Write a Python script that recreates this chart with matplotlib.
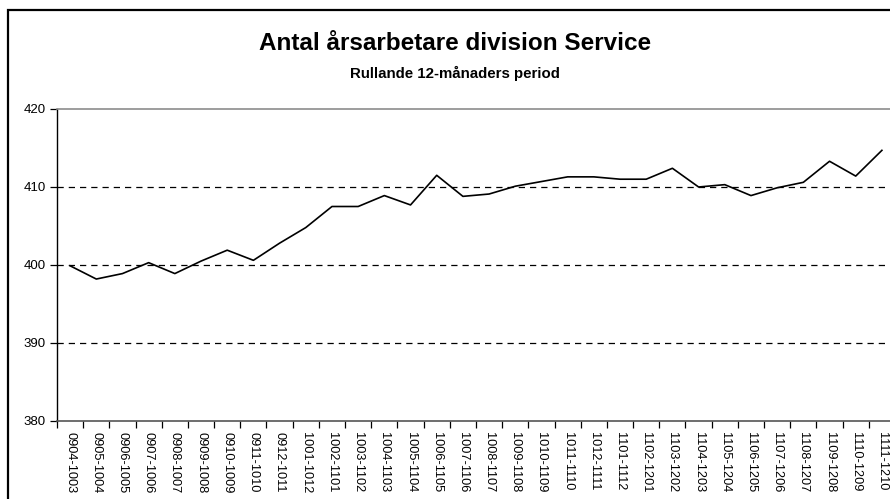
import matplotlib
matplotlib.use("Agg")
import matplotlib.pyplot as plt
from matplotlib.patches import Rectangle
from matplotlib.ticker import FixedLocator, NullFormatter

plt.rcParams['font.family'] = ['Liberation Sans Narrow', 'Liberation Sans', 'DejaVu Sans']

periods = ["0904-1003", "0905-1004", "0906-1005", "0907-1006", "0908-1007", "0909-1008",
           "0910-1009", "0911-1010", "0912-1011", "1001-1012", "1002-1101", "1003-1102",
           "1004-1103", "1005-1104", "1006-1105", "1007-1106", "1008-1107", "1009-1108",
           "1010-1109", "1011-1110", "1012-1111", "1101-1112", "1102-1201", "1103-1202",
           "1104-1203", "1105-1204", "1106-1205", "1107-1206", "1108-1207", "1109-1208",
           "1110-1209", "1111-1210"]
arsarbetare = [399.9, 398.2, 398.9, 400.3, 398.9, 400.5, 401.9, 400.6, 402.8, 404.8,
               407.5, 407.5, 408.9, 407.7, 411.5, 408.8, 409.1, 410.1, 410.7, 411.3,
               411.3, 411.0, 411.0, 412.4, 410.0, 410.3, 408.9, 409.9, 410.6, 413.3,
               411.4, 414.7]
y_ticks = [380, 390, 400, 410, 420]

W, H = 890, 499
fig = plt.figure(figsize=(W / 100, H / 100), dpi=100)
fig.patch.set_facecolor("white")

# outer chart frame
fig.patches.append(Rectangle((8 / W, -0.2), 1.2, 1 - 10 / H + 0.2,
                             transform=fig.transFigure, fill=False,
                             edgecolor="black", linewidth=1.6, clip_on=False))

ax = fig.add_axes([57 / W, 1 - 421 / H, (895 - 57) / W, (421 - 109) / H])
n = len(periods)
x = list(range(n))
ax.plot(x, arsarbetare, color="black", linewidth=1.2, zorder=3)

ax.set_xlim(-0.5, n - 0.5)
ax.set_ylim(380, 420)

for v in [390, 400, 410]:
    ax.axhline(v, color="black", linewidth=0.9, linestyle=(0, (5, 4)), zorder=1)

ax.set_yticks(y_ticks)
ax.set_yticklabels([str(v) for v in y_ticks], fontsize=9.5)
ax.tick_params(axis="y", direction="out", length=5, width=0.9, pad=3, colors="black")

ax.set_xticks(x)
ax.set_xticklabels(periods, rotation=-90, fontsize=9.2, va="top", ha="center")
ax.tick_params(axis="x", which="major", length=0, pad=8)
ax.xaxis.set_minor_locator(FixedLocator([i - 0.5 for i in range(n + 1)]))
ax.xaxis.set_minor_formatter(NullFormatter())
ax.tick_params(axis="x", which="minor", direction="out", length=5, width=0.9, color="black")

ax.spines["left"].set_color("black")
ax.spines["left"].set_linewidth(1.0)
ax.spines["bottom"].set_color("#555555")
ax.spines["bottom"].set_linewidth(1.2)
ax.spines["top"].set_color("#8c8c8c")
ax.spines["top"].set_linewidth(1.2)
ax.spines["right"].set_visible(False)

fig.text(455 / W, 1 - 44 / H, "Antal årsarbetare division Service",
         ha="center", va="center", fontsize=17.5, fontweight="bold")
fig.text(455 / W, 1 - 73 / H, "Rullande 12-månaders period",
         ha="center", va="center", fontsize=10.8, fontweight="bold")

fig.savefig("out.png", dpi=100)
